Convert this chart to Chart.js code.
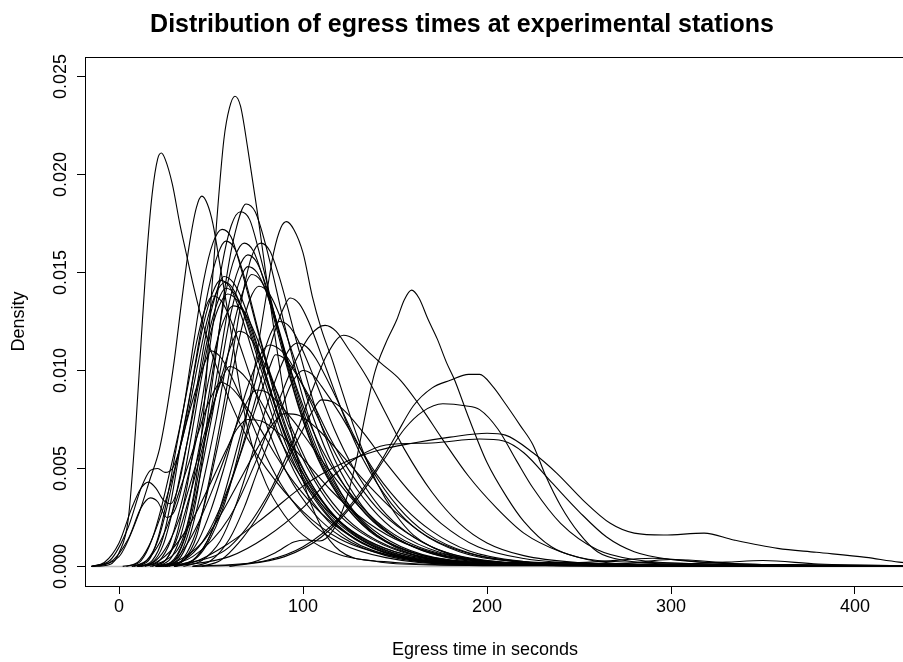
<!DOCTYPE html>
<html>
<head>
<meta charset="utf-8">
<script src="https://cdn.jsdelivr.net/npm/chart.js@4.4.1/dist/chart.umd.min.js"></script>
<style>
  html, body { margin: 0; padding: 0; background: #fff; overflow: hidden; }
  #wrap { width: 903px; height: 662px; overflow: hidden; }
</style>
</head>
<body>
<div id="wrap"><canvas id="egressChart" width="940" height="662"></canvas></div>
<script>
// Each curve: [egress time (s), density x 1000]
const peak62 = [[10,0],[25,0.3],[35,1.5],[42,4.5],[47,9],[50,13.6],[53,17.5],[57,21.8],[60,23.4],[63,24],[66,23.5],[70,21.3],[75,18.2],[80,14.8],[85,11.6],[90,8.6],[100,4.4],[110,2],[120,0.8],[140,0.25],[170,0.08],[250,0.03],[440,0.01]];
const peak23 = [[-15,0],[-5,0.1],[0,0.7],[5,2.4],[9,7],[12,11.5],[15,15.8],[18,19],[21,20.8],[23,21.1],[25,20.8],[29,19.5],[33,17.5],[36,16.2],[40,14.5],[45,12.6],[50,11],[60,8.5],[70,6.5],[80,5],[100,2.8],[120,1.4],[150,0.5],[200,0.15],[280,0.05],[440,0.01]];
const peak45 = [[-15,0],[0,0.5],[10,2.5],[17,4.5],[22,6],[26,8],[30,10.5],[34,13.5],[38,16.3],[42,18.3],[45,18.9],[48,18.5],[51,17.5],[55,15.3],[60,12.5],[65,9.5],[70,7],[80,4.2],[90,2.6],[100,1.6],[120,0.6],[150,0.2],[200,0.06],[440,0.01]];
const peak91 = [[20,0],[40,0.3],[50,1.5],[60,4],[70,8],[76,11.5],[80,13.8],[84,16],[88,17.3],[91,17.6],[95,17.2],[100,16],[105,13.8],[110,12.1],[116,10.5],[120,9.3],[130,6.5],[140,4.3],[150,2.7],[160,1.6],[180,0.6],[200,0.22],[240,0.06],[440,0.01]];
const peak158 = [[40,0],[70,0.15],[85,0.7],[95,1.25],[102,1.35],[109,1.3],[116,1.8],[122,3],[128,5],[134,7.8],[139,9.9],[145,11.4],[151,12.6],[155,13.6],[159,14.1],[163,13.7],[168,12.6],[173,11.6],[178,10.4],[182,9.6],[190,7.6],[200,5.3],[211,3.5],[220,2.3],[235,1.0],[250,0.45],[270,0.15],[320,0.05],[440,0.01]];
const hump193 = [[40,0],[80,0.3],[100,1],[120,2.5],[140,5],[150,6.6],[160,8.2],[170,9.1],[180,9.5],[190,9.8],[196,9.8],[203,9.2],[210,8.3],[218,7.2],[225,6.2],[232,4.6],[240,3.1],[250,1.7],[260,0.75],[275,0.3],[300,0.12],[340,0.06],[440,0.02]];
const hump180 = [[60,0],[90,0.5],[110,1.5],[130,3.5],[145,5.6],[155,7],[165,7.9],[176,8.3],[188,8.2],[196,8],[206,7],[216,5.4],[225,4],[240,2.2],[260,0.85],[280,0.35],[320,0.12],[380,0.06],[440,0.03]];
const longTail = [[20,0],[40,0.2],[60,1.2],[80,2.6],[100,4.1],[120,5.2],[140,5.9],[160,6.3],[180,6.6],[200,6.8],[210,6.7],[225,5.8],[238,4.75],[252,3.4],[267,2.2],[280,1.7],[296,1.6],[318,1.7],[334,1.35],[358,0.92],[379,0.72],[406,0.46],[424,0.22],[446,0.1]];
const flat200 = [[30,0],[60,0.5],[80,1.5],[100,3],[115,4.5],[130,5.6],[145,6.2],[170,6.3],[196,6.5],[209,6.4],[220,5.8],[235,4.3],[250,2.8],[265,1.5],[280,0.75],[300,0.35],[330,0.15],[380,0.08],[440,0.03]];
const peak112 = [[20,0],[40,0.5],[60,2.5],[75,5.5],[85,8],[95,10.3],[104,11.8],[112,12.3],[118,12],[124,11.2],[135,9.6],[145,7.8],[155,6],[170,3.8],[185,2.2],[200,1.2],[220,0.55],[250,0.2],[290,0.1],[360,0.04],[440,0.01]];
const peak122 = [[30,0],[60,1],[80,3.5],[95,6.5],[105,9],[113,10.8],[122,11.8],[128,11.6],[135,11],[142,10.4],[153,9.5],[165,8],[175,6.6],[190,4.6],[205,3],[220,1.7],[240,0.75],[260,0.3],[290,0.2],[330,0.08],[440,0.02]];

const mid56 = [[8,0],[16,0.3],[21,1.4],[26,3.4],[31,6],[36,8.6],[41,11.7],[46,14.6],[51,16.5],[56,17.2],[61,16.8],[66,15.3],[76,11.8],[86,8.3],[96,5.7],[111,3.3],[126,1.8],[146,0.8],[176,0.25],[230,0.05],[300,0.02],[440,0]];
const mid66 = [[18,0],[26,0.4],[31,1.5],[36,3.6],[41,6.3],[46,9],[51,12.3],[56,15.4],[61,17.4],[66,18.1],[71,17.7],[76,16.1],[86,12.3],[96,8.7],[106,6],[121,3.4],[136,1.8],[156,0.8],[186,0.27],[250,0.05],[440,0]];
const mid69 = [[22,0],[30,0.2],[38,1.8],[43,4],[48,7.5],[53,11],[58,14.5],[63,17],[69,18.5],[74,18.1],[80,16.3],[90,12.3],[100,8.6],[110,5.8],[125,3.1],[140,1.6],[160,0.6],[200,0.12],[260,0.03],[440,0]];
const mid58 = [[10,0],[18,0.3],[24,1.5],[29,3.7],[34,6.5],[39,9],[44,11.8],[49,14.3],[54,16],[58,16.6],[63,16.2],[68,14.8],[78,11.2],[88,7.9],[98,5.4],[113,3],[128,1.6],[150,0.65],[190,0.15],[260,0.03],[440,0]];
const mid68 = [[20,0],[28,0.4],[33,1.4],[38,3.3],[43,5.8],[48,8.3],[53,11.2],[58,14],[63,15.8],[68,16.5],[73,16.1],[78,14.8],[88,11.3],[98,8],[108,5.5],[123,3.1],[138,1.7],[160,0.7],[200,0.15],[260,0.03],[440,0]];
const mid77 = [[27,0],[35,0.3],[42,1.5],[47,3.5],[52,5.8],[57,8.3],[62,11],[67,13.8],[72,15.8],[77,16.5],[82,16.1],[87,14.8],[97,11.3],[107,8],[117,5.5],[132,3.1],[147,1.7],[170,0.65],[210,0.15],[280,0.03],[440,0]];
const mid70a = [[20,0],[28,0.2],[35,1.3],[40,3.2],[45,5.6],[50,8],[55,10.8],[60,13.5],[65,15.2],[70,15.9],[75,15.5],[80,14.3],[90,10.9],[100,7.7],[110,5.3],[125,3],[140,1.6],[165,0.55],[210,0.1],[300,0.03],[440,0]];
const mid70b = [[22,0],[30,0.3],[36,1.5],[41,3.3],[46,5.5],[51,7.9],[56,10.5],[61,13],[66,14.7],[70,15.3],[75,15],[80,14],[90,11],[100,8.2],[110,6],[125,3.8],[140,2.3],[160,1.1],[190,0.4],[240,0.1],[300,0.05],[440,0.01]];
const mid72 = [[24,0],[32,0.3],[38,1.4],[43,3.2],[48,5.3],[53,7.6],[58,10.2],[63,12.6],[68,14.2],[72,14.9],[77,14.6],[82,13.6],[92,10.4],[102,7.4],[112,5.1],[127,2.9],[142,1.6],[165,0.6],[200,0.2],[250,0.2],[290,0.42],[320,0.2],[360,0.06],[440,0.01]];
const mid55 = [[7,0],[15,0.3],[21,1.3],[26,3],[31,5.2],[36,7.4],[41,10],[46,12.4],[51,14],[55,14.6],[60,14.3],[65,13.2],[75,10.2],[85,7.2],[95,4.9],[110,2.7],[125,1.4],[150,0.5],[190,0.1],[440,0]];
const mid58b = [[10,0],[18,0.2],[24,1.1],[29,2.8],[34,5],[39,7.2],[44,9.7],[49,12],[54,13.6],[58,14.2],[63,13.9],[68,12.9],[78,10.1],[88,7.3],[98,5.1],[113,3],[128,1.7],[150,0.75],[190,0.2],[260,0.04],[440,0]];
const mid51 = [[4,0],[12,0.3],[18,1.4],[23,3],[28,5],[33,7.1],[38,9.5],[43,11.8],[47,13.2],[51,13.8],[56,13.5],[61,12.5],[71,9.8],[81,7],[91,4.8],[106,2.7],[121,1.5],[145,0.55],[185,0.12],[440,0]];
const mid62 = [[14,0],[22,0.3],[28,1.3],[33,2.9],[38,4.8],[43,6.9],[48,9.2],[53,11.4],[58,12.8],[62,13.3],[67,13.1],[72,12.3],[82,9.9],[92,7.2],[102,5.1],[117,2.9],[132,1.7],[155,0.7],[195,0.15],[440,0]];
const mid76 = [[26,0],[34,0.3],[40,1.3],[46,3],[51,5],[56,7.2],[61,9.6],[66,11.9],[71,13.6],[76,14.3],[81,14],[86,13.1],[96,10.4],[106,7.5],[116,5.2],[131,3],[146,1.7],[170,0.7],[210,0.18],[270,0.12],[300,0.35],[340,0.12],[440,0.01]];
const mid93 = [[25,0],[35,0.3],[45,1.2],[55,3],[65,5.5],[72,7.8],[78,9.8],[84,11.8],[89,13.1],[93,13.7],[98,13.4],[103,12.5],[113,10],[123,7.5],[133,5.4],[148,3.2],[163,1.8],[185,0.75],[220,0.2],[280,0.04],[440,0]];
const mid87 = [[30,0],[40,0.3],[48,1.3],[55,3],[62,5.3],[68,7.4],[74,9.4],[79,11],[83,12],[87,12.5],[92,12.3],[97,11.6],[107,9.4],[117,7],[127,5.1],[142,3],[157,1.7],[180,0.65],[220,0.15],[440,0]];
const mid82 = [[25,0],[35,0.3],[43,1.3],[50,2.9],[57,5],[63,7],[69,8.9],[74,10.2],[78,11],[82,11.3],[87,11.1],[92,10.6],[102,8.8],[112,6.8],[122,5],[137,3],[152,1.7],[175,0.7],[215,0.15],[440,0]];
const mid97 = [[35,0],[45,0.3],[55,1.3],[63,3],[70,5],[76,6.9],[82,8.7],[87,10],[92,11],[97,11.4],[102,11.2],[107,10.6],[117,8.8],[127,6.8],[137,5],[152,3],[167,1.7],[190,0.7],[230,0.2],[300,0.12],[330,0.22],[350,0.3],[380,0.12],[440,0.02]];
const low60 = [[12,0],[20,0.3],[27,1.2],[33,2.5],[38,4],[43,5.6],[48,7.3],[53,8.8],[57,9.8],[60,10.2],[65,10],[70,9.5],[80,7.9],[90,6],[100,4.4],[115,2.7],[130,1.6],[150,0.75],[190,0.2],[440,0]];
const low55 = [[7,0],[15,0.3],[22,1.2],[28,2.5],[33,3.9],[38,5.3],[43,6.8],[48,8.2],[52,9],[55,9.4],[60,9.2],[65,8.7],[75,7.3],[85,5.7],[95,4.3],[110,2.7],[125,1.6],[145,0.7],[180,0.2],[440,0]];
const low75 = [[20,0],[30,0.3],[38,1.3],[45,2.6],[52,4.2],[58,5.7],[63,7],[68,8.1],[72,8.8],[75,9],[80,8.9],[85,8.5],[95,7.4],[105,6.1],[115,4.8],[130,3.1],[145,1.8],[165,0.8],[200,0.25],[260,0.05],[440,0]];
const low100 = [[40,0],[50,0.3],[60,1.4],[68,3],[75,4.8],[82,6.5],[88,8],[93,9.2],[97,9.8],[100,10],[105,9.8],[110,9.2],[120,7.8],[130,6.2],[140,4.7],[155,3],[170,1.8],[190,0.8],[220,0.25],[260,0.08],[440,0.01]];
const low65 = [[17,0],[25,0.3],[31,1.3],[36,2.8],[41,4.5],[46,6.3],[51,8.1],[56,9.8],[61,11.3],[65,12],[70,11.8],[75,11.1],[85,9.1],[95,6.8],[105,4.8],[120,2.8],[135,1.6],[160,0.6],[200,0.15],[440,0]];
const low85 = [[30,0],[40,0.3],[48,1.3],[55,2.8],[62,4.6],[68,6.3],[74,8],[79,9.4],[82,10.2],[85,10.8],[90,10.6],[95,10],[105,8.4],[115,6.5],[125,4.9],[140,3],[155,1.8],[175,0.8],[210,0.2],[250,0.05],[440,0]];
const broad70 = [[10,0],[20,0.2],[30,1],[40,2.4],[50,4.3],[58,5.9],[64,7],[70,7.5],[78,7.4],[88,6.7],[100,5.5],[115,3.9],[130,2.6],[150,1.4],[175,0.6],[210,0.18],[260,0.05],[440,0]];
const broad90 = [[20,0],[30,0.2],[45,1.2],[55,2.6],[65,4.3],[75,6],[83,7.2],[90,7.8],[98,7.7],[108,7],[120,5.8],[135,4.2],[150,2.8],[170,1.4],[195,0.55],[230,0.15],[280,0.05],[440,0.01]];
const low50 = [[2,0],[10,0.2],[16,1],[22,2.4],[28,4.2],[33,6],[38,7.8],[43,9.4],[47,10.5],[50,11],[55,10.7],[60,9.9],[70,7.8],[80,5.6],[90,3.9],[105,2.2],[120,1.2],[145,0.45],[185,0.1],[440,0]];
const low110 = [[45,0],[55,0.3],[65,1.2],[75,2.5],[85,4.2],[93,5.7],[100,7],[105,7.9],[110,8.5],[116,8.4],[123,7.9],[133,6.8],[145,5.3],[160,3.6],[175,2.2],[195,1],[220,0.4],[260,0.12],[320,0.05],[440,0.02]];

const bump20 = [[-15,0],[-5,0.3],[5,2],[12,4],[17,4.9],[21,5],[25,4.8],[29,5],[33,6],[38,8],[43,10.4],[48,12.6],[53,14],[58,14.5],[63,14],[68,12.8],[78,9.8],[88,6.9],[98,4.7],[113,2.6],[128,1.4],[150,0.55],[190,0.12],[440,0]];
const bump15 = [[-15,0],[-8,0.2],[0,1.2],[7,3],[12,4],[16,4.3],[20,4],[24,3.4],[28,3.2],[32,4],[37,6.3],[42,9],[47,11.7],[52,13.7],[57,14.8],[62,14.5],[67,13.6],[77,10.7],[87,7.5],[97,5.1],[112,2.8],[127,1.5],[150,0.55],[190,0.12],[440,0]];
const bump18 = [[-15,0],[-5,0.2],[5,1.4],[12,3],[17,3.5],[21,3.3],[26,2.5],[30,2.8],[34,4],[39,6.5],[44,9.2],[49,11.6],[54,13.2],[59,13.9],[64,13.6],[69,12.8],[79,10],[89,7.1],[99,4.9],[114,2.7],[129,1.5],[150,0.6],[190,0.15],[440,0]];

const zeroLine = [[-14.7,0],[446,0]];

const curves = [peak62, peak23, peak45, peak91, peak158, hump193, hump180, longTail, flat200, peak112, peak122,
  mid56, mid66, mid69, mid58, mid68, mid77, mid70a, mid70b, mid72, mid55, mid58b, mid51, mid62, mid76, mid93,
  mid87, mid82, mid97, low60, low55, low75, low100, low65, low85, broad70, broad90, low50, low110,
  bump20, bump15, bump18];

const xTicks = [0, 100, 200, 300, 400];
const yTicks = [0, 5, 10, 15, 20, 25]; // density x 1000

const FONT = '"Liberation Sans", Arial, sans-serif';

const datasets = curves.map(c => ({
  data: c.map(p => ({ x: p[0], y: p[1] })),
  borderColor: '#000',
  borderWidth: 1.1
}));
datasets.push({
  data: zeroLine.map(p => ({ x: p[0], y: p[1] })),
  borderColor: '#b8b8b8',
  borderWidth: 1.5
});

const framePlugin = {
  id: 'frame',
  afterDraw(chart) {
    const { ctx, chartArea: a, scales } = chart;
    ctx.save();
    ctx.strokeStyle = '#000';
    ctx.lineWidth = 1;
    ctx.strokeRect(a.left + 0.5, a.top + 0.5, a.right - a.left, a.bottom - a.top);

    ctx.fillStyle = '#000';
    ctx.textAlign = 'center';
    ctx.textBaseline = 'middle';
    ctx.font = '18px ' + FONT;
    yTicks.forEach(v => {
      ctx.save();
      ctx.translate(61.5, scales.y.getPixelForValue(v));
      ctx.rotate(-Math.PI / 2);
      ctx.fillText((v / 1000).toFixed(3), 0, 0);
      ctx.restore();
    });

    ctx.save();
    ctx.translate(19, (a.top + a.bottom) / 2);
    ctx.rotate(-Math.PI / 2);
    ctx.fillText('Density', 0, 0);
    ctx.restore();

    ctx.fillText('Egress time in seconds', 485, 650);

    ctx.font = 'bold 25px ' + FONT;
    ctx.fillText('Distribution of egress times at experimental stations', 462, 25);
    ctx.restore();
  }
};

new Chart(document.getElementById('egressChart'), {
  type: 'line',
  data: { datasets },
  options: {
    responsive: false,
    animation: false,
    layout: { padding: { top: 57, left: 0, right: 0, bottom: 0 } },
    elements: {
      point: { radius: 0 },
      line: { cubicInterpolationMode: 'monotone' }
    },
    plugins: {
      legend: { display: false },
      title: { display: false },
      tooltip: { enabled: false }
    },
    scales: {
      x: {
        type: 'linear',
        min: -18.5,
        max: 446.2,
        afterFit: s => { s.height = 76; },
        afterBuildTicks: s => { s.ticks = xTicks.map(v => ({ value: v })); },
        grid: { drawOnChartArea: false, drawTicks: true, tickLength: 8, color: '#000' },
        border: { display: false },
        ticks: { color: '#000', font: { family: FONT, size: 18 }, padding: 2, maxRotation: 0 }
      },
      y: {
        type: 'linear',
        min: -1,
        max: 26,
        afterFit: s => { s.width = 85; },
        afterBuildTicks: s => { s.ticks = yTicks.map(v => ({ value: v })); },
        grid: { drawOnChartArea: false, drawTicks: true, tickLength: 8, color: '#000' },
        border: { display: false },
        ticks: { display: false }
      }
    }
  },
  plugins: [framePlugin]
});
</script>
</body>
</html>
